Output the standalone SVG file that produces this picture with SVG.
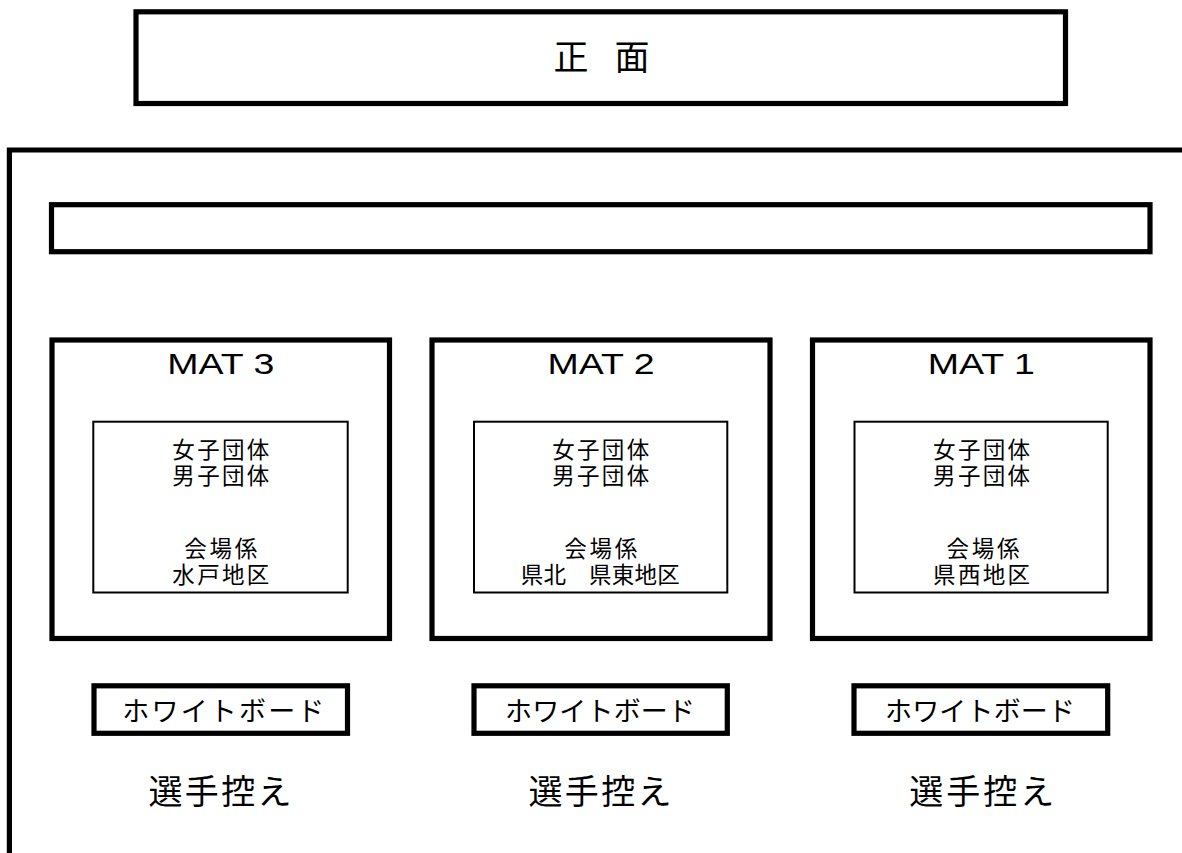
<svg xmlns="http://www.w3.org/2000/svg" width="1182" height="853" viewBox="0 0 1182 853">
<defs>
<style>
.thick{fill:none;stroke:#000;stroke-width:5.2}
.thin{fill:none;stroke:#000;stroke-width:2}
.jp{font-family:"Noto Sans CJK JP","Noto Sans CJK SC",sans-serif;fill:#000;text-anchor:middle}
.lat{font-family:"Liberation Sans",Arial,sans-serif;fill:#000;text-anchor:middle}
.inner{font-size:22.5px}
.wb{font-size:27px}
.bench{font-size:34px}
.mat{font-size:30px}
</style>
</defs>
<rect x="0" y="0" width="1182" height="853" fill="#fff"/>
<g id="front">
<rect class="thick" x="136" y="11.8" width="929.5" height="91.7"/>
<text class="jp" x="601.5" y="70" font-size="35" textLength="96" lengthAdjust="spacing">正 面</text>
</g>
<g id="hall">
<polyline class="thick" points="9.4,853 9.4,150 1182,150"/>
</g>
<g id="strip">
<rect class="thick" x="51.5" y="204.7" width="1098.5" height="47"/>
</g>
<g id="mat3">
<rect class="thick" x="52" y="340" width="337.5" height="298.5"/>
<text class="lat mat" x="220.8" y="374" textLength="107" lengthAdjust="spacingAndGlyphs">MAT 3</text>
<rect class="thin" x="93.3" y="421.7" width="254.4" height="170.8"/>
<text class="jp inner" x="220.8" y="458" textLength="97" lengthAdjust="spacing">女子団体</text>
<text class="jp inner" x="220.8" y="484" textLength="97" lengthAdjust="spacing">男子団体</text>
<text class="jp inner" x="220.8" y="556.5" textLength="73" lengthAdjust="spacing">会場係</text>
<text class="jp inner" x="220.8" y="582.5" textLength="97" lengthAdjust="spacing">水戸地区</text>
</g>
<g id="mat2">
<rect class="thick" x="432" y="340" width="338" height="298.5"/>
<text class="lat mat" x="601" y="374" textLength="107" lengthAdjust="spacingAndGlyphs">MAT 2</text>
<rect class="thin" x="474" y="421.7" width="253.3" height="170.8"/>
<text class="jp inner" x="600.7" y="458" textLength="97" lengthAdjust="spacing">女子団体</text>
<text class="jp inner" x="600.7" y="484" textLength="97" lengthAdjust="spacing">男子団体</text>
<text class="jp inner" x="600.7" y="556.5" textLength="73" lengthAdjust="spacing">会場係</text>
<text class="jp inner" x="600.2" y="582.5" textLength="159" lengthAdjust="spacing">県北　県東地区</text>
</g>
<g id="mat1">
<rect class="thick" x="812.5" y="340" width="337.5" height="298.5"/>
<text class="lat mat" x="981.3" y="374" textLength="107" lengthAdjust="spacingAndGlyphs">MAT 1</text>
<rect class="thin" x="854.5" y="421.7" width="253.2" height="170.8"/>
<text class="jp inner" x="981.6" y="458" textLength="97" lengthAdjust="spacing">女子団体</text>
<text class="jp inner" x="981.6" y="484" textLength="97" lengthAdjust="spacing">男子団体</text>
<text class="jp inner" x="983" y="556.5" textLength="73" lengthAdjust="spacing">会場係</text>
<text class="jp inner" x="981.6" y="582.5" textLength="97" lengthAdjust="spacing">県西地区</text>
</g>
<g id="whiteboard3">
<rect class="thick" x="94" y="685.8" width="253.5" height="47.5"/>
<text class="jp wb" x="223.3" y="720.5" textLength="202" lengthAdjust="spacing">ホワイトボード</text>
</g>
<g id="whiteboard2">
<rect class="thick" x="474" y="685.8" width="253.3" height="47.5"/>
<text class="jp wb" x="600" y="720.5" textLength="190" lengthAdjust="spacing">ホワイトボード</text>
</g>
<g id="whiteboard1">
<rect class="thick" x="854" y="685.8" width="253.7" height="47.5"/>
<text class="jp wb" x="980" y="720.5" textLength="190" lengthAdjust="spacing">ホワイトボード</text>
</g>
<g id="bench3">
<text class="jp bench" x="220" y="804" textLength="143" lengthAdjust="spacing">選手控え</text>
</g>
<g id="bench2">
<text class="jp bench" x="600" y="804" textLength="143" lengthAdjust="spacing">選手控え</text>
</g>
<g id="bench1">
<text class="jp bench" x="981.7" y="804" textLength="145" lengthAdjust="spacing">選手控え</text>
</g>
<g id="connectors"></g>
</svg>
